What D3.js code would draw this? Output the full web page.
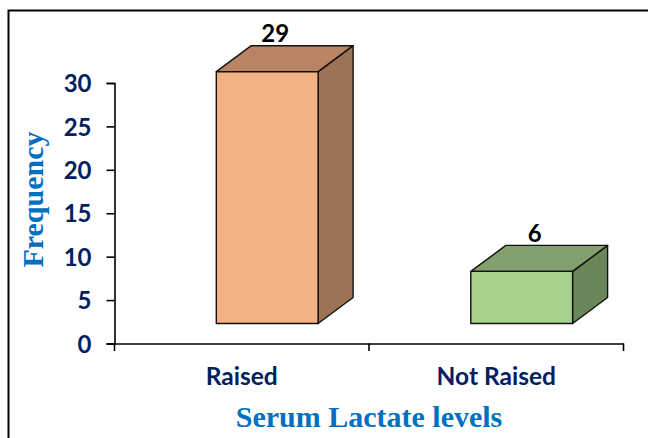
<!DOCTYPE html>
<meta charset="utf-8">
<style>
body { margin: 0; background: #fff; }
.tick-label { font-family: Lato, sans-serif; font-weight: bold; fill: #002060; }
.axis-title { font-family: "Liberation Serif", serif; font-weight: bold; fill: #0070c0; }
</style>
<svg width="648" height="438" style="display:block"></svg>
<script src="https://d3js.org/d3.v7.min.js"></script>
<script>

var categories = ["Raised", "Not Raised"];
var frequency = [29, 6];
var frontColors = ["#f4b183", "#a9d18e"];
var topColors = ["#b98463", "#829f6d"];
var sideColors = ["#9c7355", "#6b8659"];
var yTicks = [0, 5, 10, 15, 20, 25, 30];

var svg = d3.select("svg");

// outer frame, only top and left are in the picture
svg.append("path")
    .attr("d", "M8.5,445V10.5H655")
    .attr("fill", "none")
    .attr("stroke", "#000")
    .attr("stroke-width", 2);

var x = d3.scaleBand()
    .domain(categories)
    .range([114.5, 623.5]);

var y = d3.scaleLinear()
    .domain([0, 30])
    .range([343.5, 83]);

// the fake 3d bar floats above the axis and leans back
var floor = 20, dx = 35, dy = -26;

var bars = svg.append("g").selectAll("g")
    .data(categories)
    .enter().append("g")
    .attr("stroke", "#111")
    .attr("stroke-width", 1.4)
    .attr("stroke-linejoin", "round");

function x0(d) { return x(d) + x.step() * 0.4; }
function x1(d) { return x0(d) + x.step() * 0.4; }
function barTop(d, i) { return y(frequency[i]) - floor; }
function barBottom() { return y(0) - floor; }

bars.append("path")
    .attr("fill", function(d, i) { return sideColors[i]; })
    .attr("d", function(d, i) {
      return "M" + x1(d) + "," + barTop(d, i) + "l" + dx + "," + dy +
        "V" + (barBottom() + dy) + "L" + x1(d) + "," + barBottom() + "Z";
    });

bars.append("path")
    .attr("fill", function(d, i) { return topColors[i]; })
    .attr("d", function(d, i) {
      return "M" + x0(d) + "," + barTop(d, i) + "l" + dx + "," + dy +
        "H" + (x1(d) + dx) + "L" + x1(d) + "," + barTop(d, i) + "Z";
    });

bars.append("rect")
    .attr("x", x0)
    .attr("y", barTop)
    .attr("width", x.step() * 0.4)
    .attr("height", function(d, i) { return barBottom() - barTop(d, i); })
    .attr("fill", function(d, i) { return frontColors[i]; });

// value labels were placed by hand in the original, so they need a nudge each
svg.append("g").selectAll("text")
    .data(categories)
    .enter().append("text")
    .attr("x", function(d, i) { return (x0(d) + x1(d)) / 2 + (i == 0 ? 8 : 13); })
    .attr("y", function(d, i) { return barTop(d, i) + dy - 3.5; })
    .attr("text-anchor", "middle")
    .attr("font-family", "Lato, sans-serif")
    .attr("font-weight", "bold")
    .attr("font-size", 24)
    .attr("fill", "#000")
    .text(function(d, i) { return frequency[i]; });

var yAxis = svg.append("g")
    .attr("transform", "translate(114.5,0)")
    .call(d3.axisLeft(y).tickValues(yTicks).tickSize(8).tickPadding(15));
yAxis.selectAll("text").attr("class", "tick-label").attr("font-size", 24).attr("dy", "0.36em");

var xAxis = svg.append("g")
    .attr("transform", "translate(0,343.5)")
    .call(d3.axisBottom(x).tickValues([]).tickSizeOuter(0));

// ticks sit between the categories, so they go on the band edges
xAxis.selectAll("line.edge")
    .data(categories.concat("end"))
    .enter().append("line")
    .attr("class", "edge")
    .attr("x1", function(d) { return d == "end" ? x.range()[1] : x(d); })
    .attr("x2", function(d) { return d == "end" ? x.range()[1] : x(d); })
    .attr("y2", 7.5)
    .attr("stroke", "#000");

svg.selectAll(".domain, .tick line, .edge").attr("stroke", "#000").attr("stroke-width", 1.6);

svg.append("g").selectAll("text")
    .data(categories)
    .enter().append("text")
    .attr("class", "tick-label")
    .attr("x", function(d) { return x(d) + x.step() / 2; })
    .attr("y", 385)
    .attr("text-anchor", "middle")
    .attr("font-size", 24.5)
    .text(function(d) { return d; });

svg.append("text")
    .attr("class", "axis-title")
    .attr("x", 369)
    .attr("y", 427)
    .attr("text-anchor", "middle")
    .attr("font-size", 30)
    .text("Serum Lactate levels");

svg.append("text")
    .attr("class", "axis-title")
    .attr("transform", "translate(43,199.5) rotate(-90)")
    .attr("text-anchor", "middle")
    .attr("font-size", 30)
    .text("Frequency");

</script>
